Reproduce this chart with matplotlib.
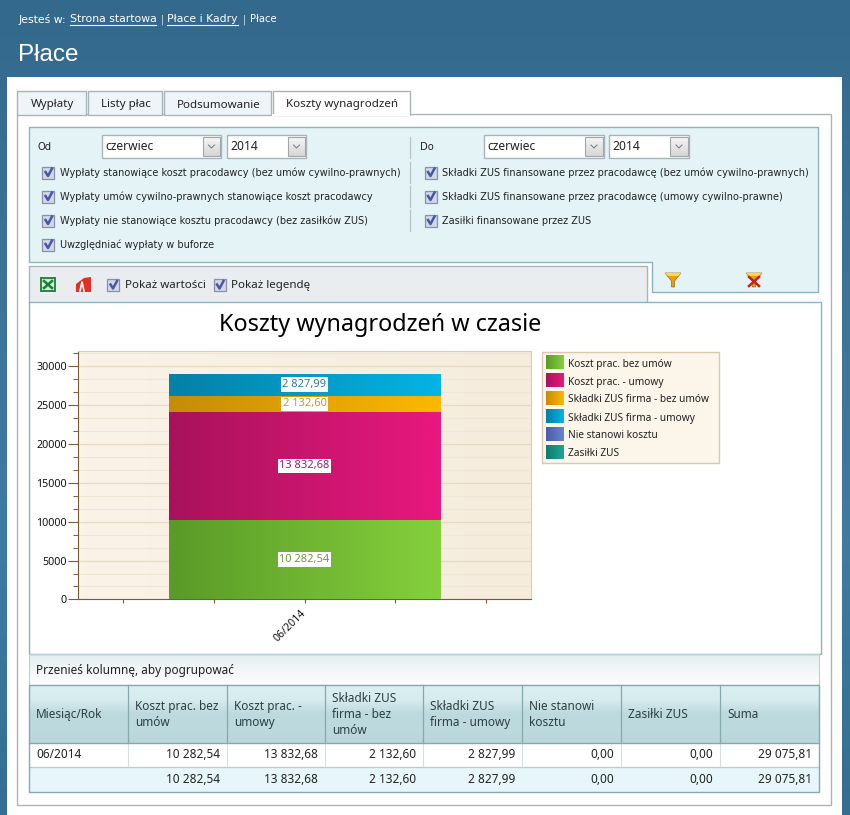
#Salary cost screen: stacked bar chart inside the application window
import numpy as np
import matplotlib
matplotlib.use("Agg")
import matplotlib.pyplot as plt
from matplotlib.colors import LinearSegmentedColormap
from matplotlib.patches import Rectangle, Polygon

#Chart data
months = ["06/2014"]
series_names = ["Koszt prac. bez umów", "Koszt prac. - umowy", "Składki ZUS firma - bez umów",
                "Składki ZUS firma - umowy", "Nie stanowi kosztu", "Zasiłki ZUS"]
koszt_bez_umow = [10282.54]
koszt_umowy = [13832.68]
zus_bez_umow = [2132.60]
zus_umowy = [2827.99]
nie_stanowi = [0.00]
zasilki = [0.00]
suma = [29075.81]

#Table texts
table_headers = ["Miesiąc/Rok", "Koszt prac. bez\numów", "Koszt prac. -\numowy", "Składki ZUS\nfirma - bez\numów",
                 "Składki ZUS\nfirma - umowy", "Nie stanowi\nkosztu", "Zasiłki ZUS", "Suma"]

#Filter texts
left_options = ["Wypłaty stanowiące koszt pracodawcy (bez umów cywilno-prawnych)",
                "Wypłaty umów cywilno-prawnych stanowiące koszt pracodawcy",
                "Wypłaty nie stanowiące kosztu pracodawcy (bez zasiłków ZUS)",
                "Uwzględniać wypłaty w buforze"]
right_options = ["Składki ZUS finansowane przez pracodawcę (bez umów cywilno-prawnych)",
                 "Składki ZUS finansowane przez pracodawcę (umowy cywilno-prawne)",
                 "Zasiłki finansowane przez ZUS"]
tabs = ["Wypłaty", "Listy płac", "Podsumowanie", "Koszty wynagrodzeń"]

#Gradient end colours of the series
bar_colors = [("#5a9a28", "#84d03c"), ("#a8125c", "#e8187e"), ("#c58c08", "#fcb800"),
              ("#0680a8", "#02b4e4"), ("#4a5ca8", "#6c84cc"), ("#0e7e70", "#22a494")]
label_colors = ["#6f9a3a", "#a01a68", "#c59a20", "#2b7f9c"]

UI_FONT = "DejaVu Sans"
TAHOMA = "Noto Sans"


def fmt(value):
    text = f"{value:,.2f}"
    return text.replace(",", " ").replace(".", ",")


fig = plt.figure(figsize=(8.5, 8.15), dpi=100)

#The whole window is drawn in pixel coordinates
page = fig.add_axes([0, 0, 1, 1])
page.set_xlim(0, 850)
page.set_ylim(815, 0)
page.axis("off")


def grad(ax, x0, x1, y0, y1, colors, vertical=True, zorder=1):
    cmap = LinearSegmentedColormap.from_list("g", colors)
    ramp = np.linspace(0, 1, 64)
    ramp = ramp.reshape(-1, 1) if vertical else ramp.reshape(1, -1)
    return ax.imshow(ramp, cmap=cmap, extent=[x0, x1, y1, y0], aspect="auto", zorder=zorder, interpolation="bilinear")


def box(x0, y0, x1, y1, fc="none", ec="none", lw=1, zorder=2):
    page.add_patch(Rectangle((x0, y0), x1 - x0, y1 - y0, fc=fc, ec=ec, lw=lw, zorder=zorder))


def label(x, y, s, size=7.2, color="#222222", family=UI_FONT, ha="left", va="center", **kw):
    page.text(x, y, s, fontsize=size, color=color, family=family, ha=ha, va=va, zorder=6, **kw)


def checkbox(x, y):
    box(x, y - 6, x + 12, y + 6, fc="#d3d7e8", ec="#8b8fa5", lw=0.9, zorder=4)
    page.plot([x + 3, x + 5.5, x + 9.5], [y - 0.5, y + 3.5, y - 4], color="#4658a8", lw=1.8, zorder=5)


def combo(x0, x1, bx0, bx1, y0, y1, text):
    box(x0, y0, x1, y1, fc="white", ec="#a9b4b8", lw=1, zorder=3)
    grad(page, bx0, bx1, y0 + 2, y1 - 2, ["#f6f6f6", "#d6d6d6"], zorder=4)
    box(bx0, y0 + 2, bx1, y1 - 2, ec="#a0a6a9", lw=0.8, zorder=5)
    mid = (bx0 + bx1) / 2
    page.plot([mid - 3, mid, mid + 3], [145, 148, 145], color="#777777", lw=0.7, zorder=6)
    label(x0 + 3.5, (y0 + y1) / 2 + 0.5, text, size=8.7, family=TAHOMA, color="#222222")


#Blue window background and white panel
grad(page, 0, 850, 0, 815, ["#33698c", "#3e7397", "#3f7aa1", "#346f93"], zorder=0)
box(7, 77, 842, 815, fc="white", zorder=1)

#Breadcrumbs and page title
label(19, 19.5, "Jesteś w:", size=7.8, color="white")
label(70, 19.5, "Strona startowa", size=7.8, color="white")
page.plot([70, 156], [24.5, 24.5], color="white", lw=0.8, zorder=6)
label(161, 19.5, "|", size=7, color="#dddddd")
label(167, 19.5, "Płace i Kadry", size=7.8, color="white")
page.plot([167, 238], [24.5, 24.5], color="white", lw=0.8, zorder=6)
label(243, 19.5, "|", size=7, color="#dddddd")
label(250, 19.5, "Płace", size=7.2, color="white")
label(18, 55, "Płace", size=17.5, color="white", family="Liberation Sans")

#Tabs and outer frame
box(17, 114, 831, 805, fc="white", ec="#a9b4b8", lw=1, zorder=2)
tab_edges = [(17, 86), (88, 162), (164, 271), (273, 410)]
for (x0, x1), tab in zip(tab_edges, tabs):
    active = tab == tabs[-1]
    box(x0, 91, x1, 115, fc="white" if active else "#eef5f9", ec="#a9b4b8", lw=1, zorder=3)
    label((x0 + x1) / 2 + 0.8, 103.5, tab, size=8.3, family=TAHOMA, ha="center", va="center_baseline", color="#222222")
page.plot([273.5, 409.5], [114.5, 114.5], color="white", lw=1.5, zorder=4)

#Filter panel with its notch for the toolbar
panel = [(29, 127), (818, 127), (818, 292), (652, 292), (652, 262), (29, 262)]
page.add_patch(Polygon(panel, closed=True, fc="#e4f4f6", ec="#8fb3bb", lw=1, zorder=2))
label(38, 147, "Od", size=7.2)
label(420, 147, "Do", size=7.2)
combo(102, 221, 203, 220, 135, 158, "czerwiec")
combo(227, 306, 288, 305, 135, 158, "2014")
combo(484, 604, 585, 603, 135, 158, "czerwiec")
combo(609, 689, 670, 688, 135, 158, "2014")
for y0, y1 in [(137, 158), (162, 183), (186, 207), (210, 231)]:
    page.plot([410.5, 410.5], [y0, y1], color="#b5c5ca", lw=0.9, zorder=3)

option_rows = [172.5, 196.5, 220.5, 244.5]
for y, text in zip(option_rows, left_options):
    checkbox(42.5, y)
    label(60, y, text, size=7.07)
for y, text in zip(option_rows, right_options):
    checkbox(425, y)
    label(442, y, text, size=7.07)

#Toolbar
box(29, 265.5, 647, 303, fc="#e9edf0", ec="#a7b6bb", lw=1, zorder=3)
box(41, 278, 55, 291, fc="#d8f0dc", ec="#1d8a3c", lw=1.4, zorder=4)
page.plot([44, 52], [281, 288], color="#15803a", lw=1.8, zorder=5)
page.plot([44, 52], [288, 281], color="#15803a", lw=1.8, zorder=5)
page.add_patch(Polygon([(76, 284), (84, 278), (91, 277), (91, 292), (76, 292)], closed=True, fc="#e03028", zorder=4))
page.plot([80, 82, 84], [291, 282, 291], color="white", lw=1.2, zorder=5)
checkbox(107.5, 285)
label(125, 285.5, "Pokaż wartości", size=8.3, family=TAHOMA)
checkbox(214, 285)
label(231, 285.5, "Pokaż legendę", size=8.3, family=TAHOMA)

#Filter icons
for cx, broken in [(673, False), (754, True)]:
    page.add_patch(Polygon([(cx - 8, 273), (cx + 8, 273), (cx + 1.5, 281), (cx + 1.5, 287), (cx - 1.5, 287), (cx - 1.5, 281)],
                           closed=True, fc="#e8a010", ec="#9a6a10", lw=0.5, zorder=4))
    page.add_patch(Polygon([(cx - 8, 273), (cx + 8, 273), (cx + 5, 276), (cx - 5, 276)], closed=True, fc="#ffd84a", zorder=5))
    if broken:
        page.plot([cx - 5, cx + 5], [277, 286], color="#c81e1e", lw=1.8, zorder=6)
        page.plot([cx - 5, cx + 5], [286, 277], color="#c81e1e", lw=1.8, zorder=6)

#Chart panel
box(29, 302, 821, 654, fc="white", ec="#8fb3bb", lw=1, zorder=3)
label(380, 325, "Koszty wynagrodzeń w czasie", size=16.85, family=TAHOMA, ha="center", color="black")

#Grid header area
grad(page, 29, 819, 654, 685, ["#e6eef0", "#fdfefe"], zorder=2)
box(29, 654, 819, 685, ec="#b7cfd5", lw=0.8, zorder=3)
label(36, 670.5, "Przenieś kolumnę, aby pogrupować", size=8.5, family=TAHOMA)

#Table
col_edges = [29, 128, 227, 325, 423, 522, 621, 720, 819]
grad(page, 29, 819, 685, 743, ["#d9eff2", "#d6ecef", "#bcd9dd", "#bddadf", "#b9d6da"], zorder=3)
box(29, 743, 819, 767, fc="white", zorder=3)
box(29, 767, 819, 792, fc="#e6f6fa", zorder=3)
for x in col_edges[1:-1]:
    page.plot([x, x], [685, 743], color="#86a9ae", lw=0.9, zorder=4)
    page.plot([x, x], [743, 767], color="#d5dfe1", lw=0.8, zorder=4)
page.plot([29, 819], [743, 743], color="#86a9ae", lw=1, zorder=4)
page.plot([29, 819], [767, 767], color="#b5cdd2", lw=0.9, zorder=4)
box(29, 685, 819, 792, ec="#86a9ae", lw=1, zorder=5)
for i, header in enumerate(table_headers):
    label(col_edges[i] + 7, 714.5, header, size=8.5, family=TAHOMA, color="#2e3f44", linespacing=1.28)

table_columns = [koszt_bez_umow, koszt_umowy, zus_bez_umow, zus_umowy, nie_stanowi, zasilki, suma]
label(36, 755, months[0], size=8.5, family=TAHOMA, color="#222222")
for i, values in enumerate(table_columns):
    right = col_edges[i + 2] - 7
    label(right, 755, fmt(values[0]), size=8.5, family=TAHOMA, ha="right")
    label(right, 779.5, fmt(sum(values)), size=8.5, family=TAHOMA, ha="right")

#Legend
box(542, 351.5, 719.5, 462.5, fc="#fbf5ea", ec="#d9c9ae", lw=1, zorder=3)
for i, (name, colors) in enumerate(zip(series_names, bar_colors)):
    y = 362 + 18 * i
    grad(page, 546, 564, y - 7, y + 7, colors, vertical=False, zorder=4)
    label(568, y + 0.5, name, size=7.3, family=TAHOMA, va="center_baseline", color="#222222")

page.set_xlim(0, 850)
page.set_ylim(815, 0)

#The chart itself, on real axes
ax = fig.add_axes([78 / 850, 1 - 599.4 / 815, 453 / 850, 248.4 / 815], zorder=5)
x_pos = 0
bar_width = 3
x_lim = (-2.5, 2.5)
y_lim = (0, 31983)

grad(ax, x_lim[0], x_lim[1], y_lim[0], y_lim[1], ["#fbf3e8", "#f5ecdc"], vertical=False, zorder=0)

stack = [koszt_bez_umow, koszt_umowy, zus_bez_umow, zus_umowy, nie_stanowi, zasilki]
bottom = 0
for i, values in enumerate(stack):
    height = values[0]
    if height <= 0:
        continue
    rect = ax.bar(x_pos, height, bar_width, bottom=bottom, color=bar_colors[i][1], zorder=3)[0]
    im = grad(ax, x_pos - bar_width / 2, x_pos + bar_width / 2, bottom, bottom + height, bar_colors[i], vertical=False, zorder=4)
    im.set_clip_path(rect)
    ax.text(x_pos, bottom + height / 2, fmt(height), ha="center", va="center", fontsize=8, family=TAHOMA, color=label_colors[i],
            zorder=6, bbox=dict(fc="white", ec="none", pad=1.2))
    bottom += height

ax.set_xlim(*x_lim)
ax.set_ylim(*y_lim)
ax.set_yticks(np.arange(0, 30001, 5000))
ax.set_yticks(np.arange(0, y_lim[1], 5000 / 3), minor=True)
ax.set_xticks([-2, -1, 0, 1, 2])
ax.set_xticklabels(["", "", months[0], "", ""], rotation=45, ha="right", va="center", rotation_mode="anchor", fontsize=7.6, family=TAHOMA)
ax.tick_params(axis="y", which="major", length=7, width=0.8, color="#7a5c30", labelsize=7.7, pad=1, labelcolor="#111111")
ax.tick_params(axis="y", which="minor", length=3.5, width=0.7, color="#7a5c30")
ax.tick_params(axis="x", length=3, width=0.8, color="#7a5c30", pad=6, labelcolor="#111111")
for tick in ax.get_yticklabels():
    tick.set_family(TAHOMA)
ax.grid(axis="y", which="major", color="#e6dac4", lw=0.9, zorder=1)
ax.grid(axis="y", which="minor", color="#efe6d6", lw=0.8, zorder=1)
ax.set_axisbelow(True)
for side in ["left", "bottom"]:
    ax.spines[side].set_color("#7a5c30")
for side in ["top", "right"]:
    ax.spines[side].set_color("#dccdb2")

fig.savefig("out.png", dpi=100)
